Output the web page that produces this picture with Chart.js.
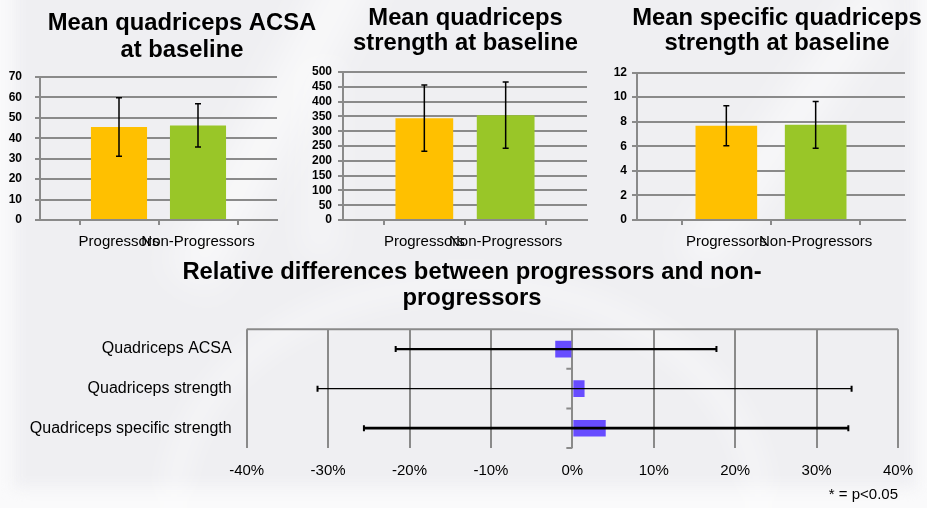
<!DOCTYPE html>
<html>
<head>
<meta charset="utf-8">
<script src="https://cdn.jsdelivr.net/npm/chart.js@4.4.1/dist/chart.umd.min.js"></script>
<style>
  html, body { margin: 0; padding: 0; }
  body { width: 927px; height: 508px; overflow: hidden; position: relative; background: #fafafb; }
  .slide { position: absolute; left: 14px; top: -20px; width: 902px; height: 508px; background: #efeff2; filter: blur(7px); }
  .sweep { position: absolute; background: rgba(255,255,255,0.55); filter: blur(16px); }
  .s1 { left: 250px; top: -60px; width: 50px; height: 360px; transform: rotate(28deg); }
  .s2 { left: 770px; top: -40px; width: 40px; height: 330px; transform: rotate(35deg); }
  .s3 { left: 300px; top: 60px; width: 40px; height: 200px; background: rgba(255,255,255,0.35); }
  .ring { position: absolute; left: 160px; top: 270px; width: 560px; height: 420px; border-radius: 50%;
          border: 26px solid rgba(255,255,255,0.35); filter: blur(12px); }
  canvas { position: absolute; }
</style>
</head>
<body>
<div class="slide"></div>
<div class="sweep s1"></div>
<div class="sweep s2"></div>
<div class="sweep s3"></div>
<div class="ring"></div>
<canvas id="acsa" width="364" height="255" style="left:0;top:0"></canvas>
<canvas id="strength" width="331" height="255" style="left:300px;top:0"></canvas>
<canvas id="specific" width="354" height="255" style="left:600px;top:0"></canvas>
<canvas id="relative" width="910" height="258" style="left:17px;top:250px"></canvas>
<script>
// Baseline group means (bars) and standard deviations (error bars)
const groups = ['Progressors', 'Non-Progressors'];
const groupColors = ['#FFC000', '#99C628'];

const acsaMean = [45.5, 46.3];
const acsaSD = [14.3, 10.6];
const acsaTicks = [0, 10, 20, 30, 40, 50, 60, 70];

const strengthMean = [344, 354];
const strengthSD = [112, 112];
const strengthTicks = [0, 50, 100, 150, 200, 250, 300, 350, 400, 450, 500];

const specificMean = [7.67, 7.74];
const specificSD = [1.62, 1.9];
const specificTicks = [0, 2, 4, 6, 8, 10, 12];

// Relative difference (%) between progressors and non-progressors with interval limits
const measures = ['Quadriceps ACSA', 'Quadriceps strength', 'Quadriceps specific strength'];
const relDiff = [-2.1, 1.5, 4.1];
const ciLow = [-21.7, -31.3, -25.6];
const ciHigh = [17.7, 34.3, 33.9];
const pctTicks = [-40, -30, -20, -10, 0, 10, 20, 30, 40];

const FONT = "'Liberation Sans', Arial, sans-serif";
const GRID = '#8a8a8a';
const TITLE_SIZE = 23.8;
Chart.defaults.font.family = FONT;
Chart.defaults.color = '#000';
Chart.defaults.animation = false;

// Vertical error bars on top of each group bar
const groupErrorBars = {
  id: 'groupErrorBars',
  afterDatasetsDraw(chart, args, opts) {
    const ctx = chart.ctx, y = chart.scales.y;
    const ds = chart.data.datasets[0];
    const meta = chart.getDatasetMeta(0);
    ctx.save();
    ctx.strokeStyle = '#000';
    ctx.lineWidth = 1.5;
    opts.errors.forEach((e, i) => {
      const v = ds.data[i];
      if (v == null || e == null) return;
      const x = meta.data[i].x;
      const top = y.getPixelForValue(v + e), bot = y.getPixelForValue(v - e);
      ctx.beginPath();
      ctx.moveTo(x, top); ctx.lineTo(x, bot);
      ctx.moveTo(x - 3, top); ctx.lineTo(x + 3, top);
      ctx.moveTo(x - 3, bot); ctx.lineTo(x + 3, bot);
      ctx.stroke();
    });
    ctx.restore();
  }
};

function groupChart(id, title, means, sds, ticks, geo) {
  const labels = ['', ...groups, ''];
  return new Chart(document.getElementById(id), {
    type: 'bar',
    data: {
      labels,
      datasets: [{
        data: [null, ...means, null],
        backgroundColor: ['transparent', ...groupColors, 'transparent'],
        barPercentage: geo.bar,
        categoryPercentage: 1
      }]
    },
    options: {
      responsive: false,
      layout: { padding: 0 },
      plugins: {
        legend: { display: false },
        tooltip: { enabled: false },
        title: {
          display: true,
          text: title,
          color: '#000',
          font: { size: TITLE_SIZE, weight: 'bold', lineHeight: geo.lh / TITLE_SIZE },
          padding: { top: geo.tTop, bottom: geo.tBottom }
        },
        groupErrorBars: { errors: [null, ...sds, null] }
      },
      scales: {
        x: {
          offset: false,
          grid: { display: true, drawOnChartArea: false, drawTicks: true, tickLength: 5, color: GRID, lineWidth: 2 },
          border: { display: true, color: GRID, width: 2 },
          ticks: { autoSkip: false, maxRotation: 0, padding: 8, font: { size: 15 }, color: '#000' },
          afterFit(s) { s.height = 35; }
        },
        y: {
          min: ticks[0],
          max: ticks[ticks.length - 1],
          ticks: { stepSize: ticks[1] - ticks[0], autoSkip: false, padding: geo.yPad, font: { size: 12, weight: 'bold' }, color: '#000' },
          grid: { color: GRID, lineWidth: 2, tickLength: 5 },
          border: { display: true, color: GRID, width: 2 },
          afterFit(s) { s.width = geo.yW; }
        },
        spacer: {
          type: 'linear', position: 'right', display: true,
          grid: { display: false }, border: { display: false }, ticks: { display: false },
          afterFit(s) { s.width = geo.right; }
        }
      }
    },
    plugins: [groupErrorBars]
  });
}

groupChart('acsa', ['Mean quadriceps ACSA', 'at baseline'], acsaMean, acsaSD, acsaTicks,
  { yW: 40, right: 87, lh: 27, tTop: 9.5, tBottom: 13.5, yPad: 13, bar: 0.71 });
groupChart('strength', ['Mean quadriceps', 'strength at baseline'], strengthMean, strengthSD, strengthTicks,
  { yW: 43, right: 44, lh: 25, tTop: 5.5, tBottom: 16.5, yPad: 6, bar: 0.71 });
groupChart('specific', ['Mean specific quadriceps', 'strength at baseline'], specificMean, specificSD, specificTicks,
  { yW: 37, right: 49, lh: 25, tTop: 5.5, tBottom: 17, yPad: 5, bar: 0.69 });

// Horizontal interval lines, axis frame and category ticks for the difference chart
const intervalLines = {
  id: 'intervalLines',
  afterDatasetsDraw(chart, args, opts) {
    const ctx = chart.ctx, x = chart.scales.x, y = chart.scales.y;
    const area = chart.chartArea;
    ctx.save();
    // frame line along the top of the plot
    ctx.strokeStyle = GRID;
    ctx.lineWidth = 2;
    ctx.beginPath();
    ctx.moveTo(area.left, area.top); ctx.lineTo(area.right, area.top);
    // category ticks on the zero line
    const x0 = x.getPixelForValue(0);
    const band = (area.bottom - area.top) / measures.length;
    for (let i = 0; i <= measures.length; i++) {
      const yy = area.top + band * i;
      ctx.moveTo(x0 - 6, yy); ctx.lineTo(x0, yy);
    }
    ctx.stroke();
    // interval lines with end caps
    ctx.strokeStyle = '#000';
    measures.forEach((m, i) => {
      const yc = y.getPixelForValue(i);
      const xl = x.getPixelForValue(ciLow[i]), xr = x.getPixelForValue(ciHigh[i]);
      ctx.lineWidth = opts.widths[i];
      ctx.beginPath();
      ctx.moveTo(xl, yc); ctx.lineTo(xr, yc);
      ctx.stroke();
      ctx.lineWidth = 2;
      ctx.beginPath();
      ctx.moveTo(xl, yc - 3); ctx.lineTo(xl, yc + 3);
      ctx.moveTo(xr, yc - 3); ctx.lineTo(xr, yc + 3);
      ctx.stroke();
    });
    ctx.restore();
  }
};

new Chart(document.getElementById('relative'), {
  type: 'bar',
  data: {
    labels: measures,
    datasets: [{
      data: relDiff,
      backgroundColor: '#674CFF',
      barPercentage: 0.42,
      categoryPercentage: 1
    }]
  },
  options: {
    responsive: false,
    indexAxis: 'y',
    layout: { padding: 0 },
    plugins: {
      legend: { display: false },
      tooltip: { enabled: false },
      title: {
        display: true,
        text: ['Relative differences between progressors and non-', 'progressors'],
        color: '#000',
        font: { size: TITLE_SIZE, weight: 'bold', lineHeight: 26 / TITLE_SIZE },
        padding: { top: 9, bottom: 18.3 }
      },
      intervalLines: { widths: [2.2, 1.3, 2.7] }
    },
    scales: {
      x: {
        min: pctTicks[0],
        max: pctTicks[pctTicks.length - 1],
        ticks: { stepSize: pctTicks[1] - pctTicks[0], padding: 14, font: { size: 15 }, color: '#000', callback: v => v + '%' },
        grid: { color: GRID, lineWidth: 2, drawTicks: false },
        border: { display: false },
        title: { display: true, text: '* = p<0.05', align: 'end', font: { size: 15 }, color: '#000', padding: { top: 0, bottom: 4 } },
        afterFit(s) { s.height = 60; }
      },
      y: {
        grid: { display: false },
        border: { display: false },
        ticks: { padding: 7, font: { size: 16 }, color: '#000' },
        afterFit(s) { s.width = 229.7; }
      },
      spacer: {
        type: 'linear', position: 'right', display: true,
        grid: { display: false }, border: { display: false }, ticks: { display: false },
        afterFit(s) { s.width = 26.3; }
      }
    }
  },
  plugins: [intervalLines]
});
</script>
</body>
</html>
